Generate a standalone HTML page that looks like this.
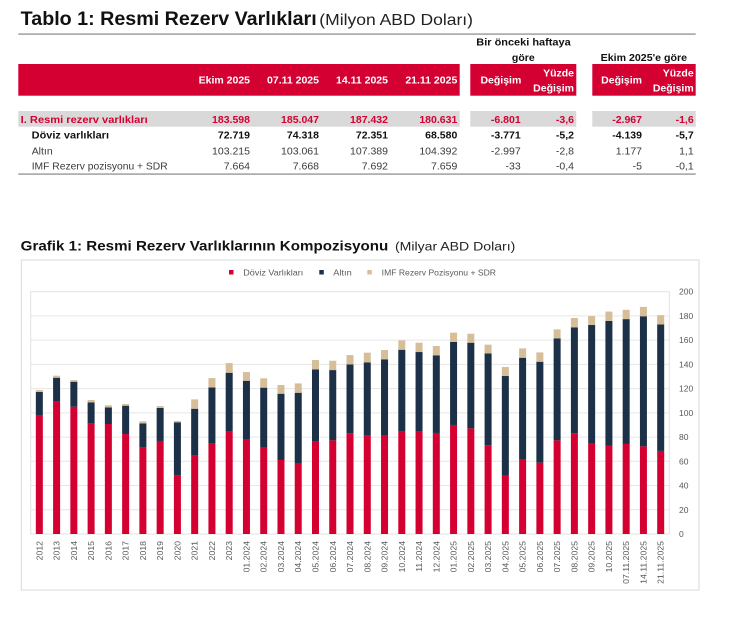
<!DOCTYPE html>
<html>
<head>
<meta charset="utf-8">
<style>
  html,body{margin:0;padding:0;background:#fff;}
  svg{display:block;}
  text{font-family:"Liberation Sans", Arial, sans-serif;}
</style>
</head>
<body>
<svg width="733" height="620" viewBox="0 0 733 620" xmlns="http://www.w3.org/2000/svg">
  <rect x="0" y="0" width="733" height="620" fill="#fff"/>

  <!-- ===== TABLE ===== -->
  <text x="20.7" y="25" font-size="19.5" font-weight="bold" fill="#111" textLength="296" lengthAdjust="spacingAndGlyphs">Tablo 1: Resmi Rezerv Varlıkları</text>
  <text x="319.3" y="25" font-size="16" fill="#222" textLength="153.7" lengthAdjust="spacingAndGlyphs">(Milyon ABD Doları)</text>
  <rect x="18.3" y="33.3" width="677.4" height="1.6" fill="#a6a6a6"/>

  <!-- group headers -->
  <g font-size="10.5" font-weight="bold" fill="#111">
    <text x="476.3" y="45.7" textLength="94.4" lengthAdjust="spacingAndGlyphs">Bir önceki haftaya</text>
    <text x="523.3" y="61" text-anchor="middle">göre</text>
    <text x="600.7" y="61" textLength="86.3" lengthAdjust="spacingAndGlyphs">Ekim 2025'e göre</text>
  </g>

  <!-- red header bands -->
  <rect x="18.3" y="64" width="441.4" height="31.7" fill="#d40032"/>
  <rect x="470.3" y="64" width="106" height="31.7" fill="#d40032"/>
  <rect x="592.3" y="64" width="103.4" height="31.7" fill="#d40032"/>
  <g font-size="10.5" font-weight="bold" fill="#fff" text-anchor="end">
    <text x="250" y="83.7">Ekim 2025</text>
    <text x="319" y="83.7">07.11 2025</text>
    <text x="388" y="83.7">14.11 2025</text>
    <text x="457.3" y="83.7">21.11 2025</text>
    <text x="521.3" y="83.7">Değişim</text>
    <text x="574" y="76.4">Yüzde</text>
    <text x="574" y="91.4">Değişim</text>
    <text x="642" y="83.7">Değişim</text>
    <text x="693.7" y="76.4">Yüzde</text>
    <text x="693.7" y="91.4">Değişim</text>
  </g>

  <!-- row 1 band -->
  <rect x="18.3" y="111" width="441.4" height="15.7" fill="#d9d9d9"/>
  <rect x="470.3" y="111" width="106" height="15.7" fill="#d9d9d9"/>
  <rect x="592.3" y="111" width="103.4" height="15.7" fill="#d9d9d9"/>

  <!-- row 1 -->
  <g font-size="10.5" font-weight="bold" fill="#d40032">
    <text x="20.7" y="122.8" textLength="127" lengthAdjust="spacingAndGlyphs">I. Resmi rezerv varlıkları</text>
    <g text-anchor="end">
      <text x="250" y="122.8">183.598</text>
      <text x="319" y="122.8">185.047</text>
      <text x="388" y="122.8">187.432</text>
      <text x="457.3" y="122.8">180.631</text>
      <text x="520.7" y="122.8">-6.801</text>
      <text x="574" y="122.8">-3,6</text>
      <text x="642" y="122.8">-2.967</text>
      <text x="693.7" y="122.8">-1,6</text>
    </g>
  </g>
  <!-- row 2 -->
  <g font-size="10.5" font-weight="bold" fill="#111">
    <text x="31.7" y="138.7" textLength="77.3" lengthAdjust="spacingAndGlyphs">Döviz varlıkları</text>
    <g text-anchor="end">
      <text x="250" y="138.7">72.719</text>
      <text x="319" y="138.7">74.318</text>
      <text x="388" y="138.7">72.351</text>
      <text x="457.3" y="138.7">68.580</text>
      <text x="520.7" y="138.7">-3.771</text>
      <text x="574" y="138.7">-5,2</text>
      <text x="642" y="138.7">-4.139</text>
      <text x="693.7" y="138.7">-5,7</text>
    </g>
  </g>
  <!-- row 3 & 4 -->
  <g font-size="10.5" fill="#3a3a3a">
    <text x="31.7" y="154.4" textLength="21" lengthAdjust="spacingAndGlyphs">Altın</text>
    <text x="31.7" y="169.7" textLength="136" lengthAdjust="spacingAndGlyphs">IMF Rezerv pozisyonu + SDR</text>
    <g text-anchor="end">
      <text x="250" y="154.4">103.215</text>
      <text x="319" y="154.4">103.061</text>
      <text x="388" y="154.4">107.389</text>
      <text x="457.3" y="154.4">104.392</text>
      <text x="520.7" y="154.4">-2.997</text>
      <text x="574" y="154.4">-2,8</text>
      <text x="642" y="154.4">1.177</text>
      <text x="693.7" y="154.4">1,1</text>

      <text x="250" y="169.7">7.664</text>
      <text x="319" y="169.7">7.668</text>
      <text x="388" y="169.7">7.692</text>
      <text x="457.3" y="169.7">7.659</text>
      <text x="520.7" y="169.7">-33</text>
      <text x="574" y="169.7">-0,4</text>
      <text x="642" y="169.7">-5</text>
      <text x="693.7" y="169.7">-0,1</text>
    </g>
  </g>
  <rect x="18.3" y="173.3" width="677.4" height="1.6" fill="#a6a6a6"/>

  <!-- ===== CHART ===== -->
  <text x="20.7" y="250.5" font-size="14" font-weight="bold" fill="#111" textLength="367.6" lengthAdjust="spacingAndGlyphs">Grafik 1: Resmi Rezerv Varlıklarının Kompozisyonu</text>
  <text x="395" y="250.5" font-size="11.5" fill="#222" textLength="120.3" lengthAdjust="spacingAndGlyphs">(Milyar ABD Doları)</text>

  <rect x="21.3" y="260" width="677.7" height="330" fill="#fff" stroke="#d9d9d9" stroke-width="1"/>

  <!-- legend -->
  <rect x="229" y="270" width="4.5" height="4.5" fill="#d50032"/>
  <text x="243.3" y="275.3" font-size="8.5" fill="#595959" textLength="60" lengthAdjust="spacingAndGlyphs">Döviz Varlıkları</text>
  <rect x="319.3" y="270" width="4.5" height="4.5" fill="#1c3048"/>
  <text x="333.3" y="275.3" font-size="8.5" fill="#595959" textLength="18.4" lengthAdjust="spacingAndGlyphs">Altın</text>
  <rect x="367.3" y="270" width="4.5" height="4.5" fill="#d6bf98"/>
  <text x="381.7" y="275.3" font-size="8.5" fill="#595959" textLength="114.3" lengthAdjust="spacingAndGlyphs">IMF Rezerv Pozisyonu + SDR</text>

  <!-- gridlines -->
  <g stroke="#e6e6e6" stroke-width="1">
    <line x1="30.7" x2="669.3" y1="509.77" y2="509.77"/>
    <line x1="30.7" x2="669.3" y1="485.54" y2="485.54"/>
    <line x1="30.7" x2="669.3" y1="461.31" y2="461.31"/>
    <line x1="30.7" x2="669.3" y1="437.08" y2="437.08"/>
    <line x1="30.7" x2="669.3" y1="412.85" y2="412.85"/>
    <line x1="30.7" x2="669.3" y1="388.62" y2="388.62"/>
    <line x1="30.7" x2="669.3" y1="364.39" y2="364.39"/>
    <line x1="30.7" x2="669.3" y1="340.16" y2="340.16"/>
    <line x1="30.7" x2="669.3" y1="315.93" y2="315.93"/>
  </g>
  <rect x="30.7" y="291.7" width="638.6" height="242.3" fill="none" stroke="#e2e2e2" stroke-width="1"/>

  <!-- y labels -->
  <g font-size="8.5" fill="#595959">
    <text x="679" y="294.7">200</text>
    <text x="679" y="318.9">180</text>
    <text x="679" y="343.2">160</text>
    <text x="679" y="367.4">140</text>
    <text x="679" y="391.6">120</text>
    <text x="679" y="415.9">100</text>
    <text x="679" y="440.1">80</text>
    <text x="679" y="464.3">60</text>
    <text x="679" y="488.5">40</text>
    <text x="679" y="512.8">20</text>
    <text x="679" y="537">0</text>
  </g>

  <!-- bars: x in category index units, y in value units -->
  <g transform="translate(35.83,534) scale(17.26,-1.2115)">
    <g fill="#d50032">
      <rect x="0" y="0" width="0.4056" height="98.2"/>
      <rect x="1" y="0" width="0.4056" height="109.2"/>
      <rect x="2" y="0" width="0.4056" height="105.1"/>
      <rect x="3" y="0" width="0.4056" height="91.3"/>
      <rect x="4" y="0" width="0.4056" height="90.8"/>
      <rect x="5" y="0" width="0.4056" height="82.5"/>
      <rect x="6" y="0" width="0.4056" height="71.5"/>
      <rect x="7" y="0" width="0.4056" height="76.8"/>
      <rect x="8" y="0" width="0.4056" height="48.4"/>
      <rect x="9" y="0" width="0.4056" height="64.6"/>
      <rect x="10" y="0" width="0.4056" height="75.1"/>
      <rect x="11" y="0" width="0.4056" height="85"/>
      <rect x="12" y="0" width="0.4056" height="77.9"/>
      <rect x="13" y="0" width="0.4056" height="71.3"/>
      <rect x="14" y="0" width="0.4056" height="61.1"/>
      <rect x="15" y="0" width="0.4056" height="58.6"/>
      <rect x="16" y="0" width="0.4056" height="76.2"/>
      <rect x="17" y="0" width="0.4056" height="77.3"/>
      <rect x="18" y="0" width="0.4056" height="83.1"/>
      <rect x="19" y="0" width="0.4056" height="81.7"/>
      <rect x="20" y="0" width="0.4056" height="81.2"/>
      <rect x="21" y="0" width="0.4056" height="84.7"/>
      <rect x="22" y="0" width="0.4056" height="85"/>
      <rect x="23" y="0" width="0.4056" height="83.4"/>
      <rect x="24" y="0" width="0.4056" height="90"/>
      <rect x="25" y="0" width="0.4056" height="87.2"/>
      <rect x="26" y="0" width="0.4056" height="73.2"/>
      <rect x="27" y="0" width="0.4056" height="48.7"/>
      <rect x="28" y="0" width="0.4056" height="61.9"/>
      <rect x="29" y="0" width="0.4056" height="58.9"/>
      <rect x="30" y="0" width="0.4056" height="77.3"/>
      <rect x="31" y="0" width="0.4056" height="83.1"/>
      <rect x="32" y="0" width="0.4056" height="74.6"/>
      <rect x="33" y="0" width="0.4056" height="72.72"/>
      <rect x="34" y="0" width="0.4056" height="74.32"/>
      <rect x="35" y="0" width="0.4056" height="72.35"/>
      <rect x="36" y="0" width="0.4056" height="68.58"/>
    </g>
    <g fill="#1c3048">
      <rect x="0" y="98.2" width="0.4056" height="19"/>
      <rect x="1" y="109.2" width="0.4056" height="19.8"/>
      <rect x="2" y="105.1" width="0.4056" height="20.6"/>
      <rect x="3" y="91.3" width="0.4056" height="17.4"/>
      <rect x="4" y="90.8" width="0.4056" height="13.7"/>
      <rect x="5" y="82.5" width="0.4056" height="23.4"/>
      <rect x="6" y="71.5" width="0.4056" height="19.8"/>
      <rect x="7" y="76.8" width="0.4056" height="27.2"/>
      <rect x="8" y="48.4" width="0.4056" height="43.8"/>
      <rect x="9" y="64.6" width="0.4056" height="38.8"/>
      <rect x="10" y="75.1" width="0.4056" height="45.9"/>
      <rect x="11" y="85" width="0.4056" height="48.1"/>
      <rect x="12" y="77.9" width="0.4056" height="48.6"/>
      <rect x="13" y="71.3" width="0.4056" height="49.5"/>
      <rect x="14" y="61.1" width="0.4056" height="54.7"/>
      <rect x="15" y="58.6" width="0.4056" height="58"/>
      <rect x="16" y="76.2" width="0.4056" height="59.7"/>
      <rect x="17" y="77.3" width="0.4056" height="58"/>
      <rect x="18" y="83.1" width="0.4056" height="56.9"/>
      <rect x="19" y="81.7" width="0.4056" height="60"/>
      <rect x="20" y="81.2" width="0.4056" height="63"/>
      <rect x="21" y="84.7" width="0.4056" height="67.4"/>
      <rect x="22" y="85" width="0.4056" height="65.2"/>
      <rect x="23" y="83.4" width="0.4056" height="64.1"/>
      <rect x="24" y="90" width="0.4056" height="68.5"/>
      <rect x="25" y="87.2" width="0.4056" height="70.7"/>
      <rect x="26" y="73.2" width="0.4056" height="75.9"/>
      <rect x="27" y="48.7" width="0.4056" height="81.7"/>
      <rect x="28" y="61.9" width="0.4056" height="83.6"/>
      <rect x="29" y="58.9" width="0.4056" height="83.3"/>
      <rect x="30" y="77.3" width="0.4056" height="84.2"/>
      <rect x="31" y="83.1" width="0.4056" height="87.5"/>
      <rect x="32" y="74.6" width="0.4056" height="97.9"/>
      <rect x="33" y="72.72" width="0.4056" height="103.22"/>
      <rect x="34" y="74.32" width="0.4056" height="103.06"/>
      <rect x="35" y="72.35" width="0.4056" height="107.39"/>
      <rect x="36" y="68.58" width="0.4056" height="104.39"/>
    </g>
    <g fill="#d6bf98">
      <rect x="0" y="117.2" width="0.4056" height="1.6"/>
      <rect x="1" y="129" width="0.4056" height="1.7"/>
      <rect x="2" y="125.7" width="0.4056" height="1.4"/>
      <rect x="3" y="108.7" width="0.4056" height="1.9"/>
      <rect x="4" y="104.5" width="0.4056" height="1.7"/>
      <rect x="5" y="105.9" width="0.4056" height="1.4"/>
      <rect x="6" y="91.3" width="0.4056" height="1.7"/>
      <rect x="7" y="104" width="0.4056" height="1.6"/>
      <rect x="8" y="92.2" width="0.4056" height="1.1"/>
      <rect x="9" y="103.4" width="0.4056" height="7.7"/>
      <rect x="10" y="121" width="0.4056" height="7.7"/>
      <rect x="11" y="133.1" width="0.4056" height="8"/>
      <rect x="12" y="126.5" width="0.4056" height="7.2"/>
      <rect x="13" y="120.8" width="0.4056" height="7.7"/>
      <rect x="14" y="115.8" width="0.4056" height="7.2"/>
      <rect x="15" y="116.6" width="0.4056" height="7.7"/>
      <rect x="16" y="135.9" width="0.4056" height="7.7"/>
      <rect x="17" y="135.3" width="0.4056" height="7.7"/>
      <rect x="18" y="140" width="0.4056" height="7.7"/>
      <rect x="19" y="141.7" width="0.4056" height="8"/>
      <rect x="20" y="144.2" width="0.4056" height="7.7"/>
      <rect x="21" y="152.1" width="0.4056" height="7.7"/>
      <rect x="22" y="150.2" width="0.4056" height="7.7"/>
      <rect x="23" y="147.5" width="0.4056" height="7.7"/>
      <rect x="24" y="158.5" width="0.4056" height="7.7"/>
      <rect x="25" y="157.9" width="0.4056" height="7.4"/>
      <rect x="26" y="149.1" width="0.4056" height="7.2"/>
      <rect x="27" y="130.4" width="0.4056" height="7.4"/>
      <rect x="28" y="145.5" width="0.4056" height="7.7"/>
      <rect x="29" y="142.2" width="0.4056" height="7.7"/>
      <rect x="30" y="161.5" width="0.4056" height="7.4"/>
      <rect x="31" y="170.6" width="0.4056" height="7.7"/>
      <rect x="32" y="172.5" width="0.4056" height="7.4"/>
      <rect x="33" y="175.94" width="0.4056" height="7.66"/>
      <rect x="34" y="177.38" width="0.4056" height="7.67"/>
      <rect x="35" y="179.74" width="0.4056" height="7.69"/>
      <rect x="36" y="172.97" width="0.4056" height="7.66"/>
    </g>
  </g>

  <!-- x labels -->
  <g font-size="8.7" fill="#595959" text-anchor="end">
    <text x="42.33" y="541" transform="rotate(-90 42.33 541)">2012</text>
    <text x="59.59" y="541" transform="rotate(-90 59.59 541)">2013</text>
    <text x="76.85" y="541" transform="rotate(-90 76.85 541)">2014</text>
    <text x="94.11" y="541" transform="rotate(-90 94.11 541)">2015</text>
    <text x="111.37" y="541" transform="rotate(-90 111.37 541)">2016</text>
    <text x="128.63" y="541" transform="rotate(-90 128.63 541)">2017</text>
    <text x="145.89" y="541" transform="rotate(-90 145.89 541)">2018</text>
    <text x="163.15" y="541" transform="rotate(-90 163.15 541)">2019</text>
    <text x="180.41" y="541" transform="rotate(-90 180.41 541)">2020</text>
    <text x="197.67" y="541" transform="rotate(-90 197.67 541)">2021</text>
    <text x="214.93" y="541" transform="rotate(-90 214.93 541)">2022</text>
    <text x="232.19" y="541" transform="rotate(-90 232.19 541)">2023</text>
    <text x="249.45" y="541" transform="rotate(-90 249.45 541)">01.2024</text>
    <text x="266.71" y="541" transform="rotate(-90 266.71 541)">02.2024</text>
    <text x="283.97" y="541" transform="rotate(-90 283.97 541)">03.2024</text>
    <text x="301.23" y="541" transform="rotate(-90 301.23 541)">04.2024</text>
    <text x="318.49" y="541" transform="rotate(-90 318.49 541)">05.2024</text>
    <text x="335.75" y="541" transform="rotate(-90 335.75 541)">06.2024</text>
    <text x="353.01" y="541" transform="rotate(-90 353.01 541)">07.2024</text>
    <text x="370.27" y="541" transform="rotate(-90 370.27 541)">08.2024</text>
    <text x="387.53" y="541" transform="rotate(-90 387.53 541)">09.2024</text>
    <text x="404.79" y="541" transform="rotate(-90 404.79 541)">10.2024</text>
    <text x="422.05" y="541" transform="rotate(-90 422.05 541)">11.2024</text>
    <text x="439.31" y="541" transform="rotate(-90 439.31 541)">12.2024</text>
    <text x="456.57" y="541" transform="rotate(-90 456.57 541)">01.2025</text>
    <text x="473.83" y="541" transform="rotate(-90 473.83 541)">02.2025</text>
    <text x="491.09" y="541" transform="rotate(-90 491.09 541)">03.2025</text>
    <text x="508.35" y="541" transform="rotate(-90 508.35 541)">04.2025</text>
    <text x="525.61" y="541" transform="rotate(-90 525.61 541)">05.2025</text>
    <text x="542.87" y="541" transform="rotate(-90 542.87 541)">06.2025</text>
    <text x="560.13" y="541" transform="rotate(-90 560.13 541)">07.2025</text>
    <text x="577.39" y="541" transform="rotate(-90 577.39 541)">08.2025</text>
    <text x="594.65" y="541" transform="rotate(-90 594.65 541)">09.2025</text>
    <text x="611.91" y="541" transform="rotate(-90 611.91 541)">10.2025</text>
    <text x="629.17" y="541" transform="rotate(-90 629.17 541)">07.11.2025</text>
    <text x="646.43" y="541" transform="rotate(-90 646.43 541)">14.11.2025</text>
    <text x="663.69" y="541" transform="rotate(-90 663.69 541)">21.11.2025</text>
  </g>
</svg>
</body>
</html>
